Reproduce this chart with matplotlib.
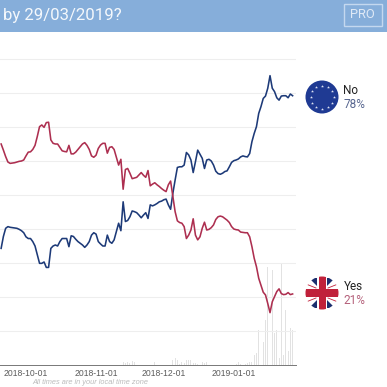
import matplotlib
matplotlib.use("Agg")
import matplotlib.pyplot as plt
import matplotlib.dates as mdates
from matplotlib.patches import Circle, Polygon, Rectangle
import numpy as np
import pandas as pd

title = "by 29/03/2019?"
footer = "All times are in your local time zone"
tick_dates = ["2018-10-01", "2018-11-01", "2018-12-01", "2019-01-01"]
grid_levels = [10, 20, 30, 40, 50, 60, 70, 80, 90]

yes_pct = [
    65.0, 63.2, 61.3, 59.7, 59.3, 59.4, 59.5, 59.7, 59.9, 60.0,
    60.3, 61.5, 62.6, 62.7, 63.4, 64.6, 67.2, 70.1, 70.6, 69.9,
    71.3, 71.4, 66.2, 65.2, 65.0, 65.0, 64.0, 63.0, 62.8, 62.7,
    64.6, 62.1, 62.1, 62.6, 63.4, 64.2, 65.0, 65.4, 64.6, 63.4,
    61.5, 61.1, 61.7, 63.7, 64.7, 65.2, 65.2, 62.3, 64.0, 64.2,
    63.4, 61.1, 58.8, 60.5, 51.7, 57.5, 57.8, 56.4, 54.8, 55.0,
    55.2, 55.9, 56.6, 55.8, 55.2, 57.2, 52.7, 53.2, 53.6, 53.0,
    52.5, 51.9, 51.4, 51.0, 53.0, 54.1, 49.5, 45.1, 42.4, 41.9,
    41.7, 40.7, 37.2, 38.2, 39.7, 43.0, 38.2, 36.8, 37.7, 40.2,
    42.0, 39.7, 39.9, 40.4, 41.2, 42.8, 43.6, 43.8, 43.6, 43.1,
    42.6, 41.9, 40.7, 40.0, 39.8, 39.7, 39.1, 39.0, 38.9, 38.9,
    37.7, 34.8, 31.4, 28.9, 25.5, 23.5, 21.4, 20.6, 18.1, 15.4,
    18.6, 20.1, 21.6, 22.4, 21.0, 20.7, 20.8, 21.3, 20.7, 20.9,
]
no_pct = [
    34.3, 37.8, 40.2, 40.7, 40.5, 40.4, 40.3, 40.2, 39.9, 39.5,
    38.9, 37.7, 37.2, 37.2, 36.3, 35.0, 32.4, 29.9, 29.9, 30.3,
    28.7, 28.7, 34.3, 35.0, 35.3, 35.0, 36.3, 37.2, 37.2, 37.2,
    34.8, 38.0, 37.8, 37.0, 36.3, 35.8, 35.3, 34.6, 35.3, 36.3,
    38.2, 38.9, 38.5, 36.3, 35.6, 35.0, 35.0, 38.2, 36.3, 35.8,
    36.8, 39.2, 41.7, 39.5, 48.0, 42.2, 42.5, 43.6, 45.3, 45.1,
    44.8, 44.1, 43.3, 44.1, 44.8, 43.1, 47.1, 46.8, 47.1, 47.5,
    48.0, 48.2, 48.6, 48.8, 47.1, 45.8, 50.5, 54.4, 58.1, 58.3,
    58.3, 58.8, 62.5, 61.8, 60.3, 56.6, 59.8, 63.2, 62.0, 60.8,
    57.8, 60.3, 60.5, 60.0, 58.8, 57.0, 56.3, 56.1, 56.4, 56.9,
    57.1, 58.3, 59.6, 60.1, 60.3, 60.6, 61.2, 61.5, 61.3, 61.2,
    62.2, 65.7, 68.1, 70.1, 74.0, 76.0, 78.4, 79.1, 81.4, 85.1,
    81.4, 80.4, 78.6, 77.9, 79.1, 79.2, 79.2, 78.6, 79.7, 79.2,
]
# trading volume, read in the same units as the percent axis
volume = [
    0, 0, 0, 0, 0, 0, 0, 0, 0, 0,
    0, 0, 0, 0, 0, 0, 0, 0, 0, 0,
    0, 0, 0, 0, 0, 0, 0, 0, 0, 0,
    0, 0, 0, 0, 0, 0, 0, 0, 0, 0,
    0, 0, 0, 0, 0, 0, 0, 0, 0, 0,
    0, 0, 0, 0, 0.8, 0.5, 1.0, 0.6, 1.2, 1.0,
    0, 0, 0, 0, 0, 0, 0, 0, 1.0, 0.5,
    0, 0, 0, 0, 0, 0, 1.5, 2.0, 1.6, 0.4,
    0.8, 0.6, 1.6, 1.4, 1.6, 0.5, 0.6, 0.4, 0.6, 0.8,
    0.7, 0.8, 0.4, 0, 0, 0, 0, 0, 0, 0,
    0, 0, 0, 0, 0.3, 1.0, 0.3, 0, 0.2, 0.5,
    1.0, 0.8, 3.0, 3.4, 10.3, 3.0, 6.9, 13.2, 28.9, 14.2,
    27.9, 9.3, 10.3, 2.0, 29.7, 3.0, 16.2, 4.0, 10.8, 10.3,
]

dates = pd.date_range("2018-09-20", periods=len(yes_pct), freq="D")

fig = plt.figure(figsize=(3.87, 3.87), dpi=100)
plt.rcParams["font.family"] = ["Liberation Sans", "DejaVu Sans"]

ax = fig.add_axes([0, 22 / 387, 296 / 387, 340 / 387])
ax.bar(dates, volume, width=0.4, color="#e2e2e2", zorder=1)
ax.plot(dates, no_pct, color="#1d3a78", lw=1.15, zorder=3)
ax.plot(dates, yes_pct, color="#ad2f50", lw=1.15, zorder=4)

ax.set_ylim(0, 100)
ax.set_xlim(dates[0] - pd.Timedelta(hours=12), dates[0] + pd.Timedelta(hours=3132))
ax.set_yticks(grid_levels)
ax.set_xticks(pd.to_datetime(tick_dates))
ax.xaxis.set_major_formatter(mdates.DateFormatter("%Y-%m-%d"))
ax.tick_params(axis="x", length=0, pad=3, labelsize=6.2, labelcolor="#5c5c5c")
ax.tick_params(axis="y", length=0, labelleft=False)
ax.grid(axis="y", color="#eeeeee", lw=0.8, zorder=0)
for side in ["top", "right", "left"]:
    ax.spines[side].set_visible(False)
ax.spines["bottom"].set_color("#777777")
ax.spines["bottom"].set_linewidth(0.7)
ax.set_facecolor("none")

# overlay in pixel units for header, flags and labels
ov = fig.add_axes([0, 0, 1, 1], facecolor="none")
ov.set_xlim(0, 387)
ov.set_ylim(387, 0)
ov.axis("off")

ov.add_patch(Rectangle((0, 0), 387, 32, color="#86aeda", lw=0))
ov.add_patch(Rectangle((343.5, 3.5), 38, 22, fc="none", ec="#c4d8ef", lw=1.0))
ov.text(362.5, 15, "PRO", color="#dfe9f6", fontsize=9.3, ha="center", va="center",
        family="Roboto")
ov.text(3, 15.5, title, color="#f4f8fc", fontsize=12.1, ha="left", va="center",
        family="Roboto")

# EU flag
ov.add_patch(Circle((322, 97), 16.5, color="#1f3a93", lw=0))
angles = np.arange(12) * np.pi / 6
ov.scatter(322 + 11.5 * np.cos(angles), 97 + 11.5 * np.sin(angles), marker="*", s=5,
           color="#dfe4f2", linewidths=0)

# UK flag
clip = Circle((322, 293), 16.5, fc="#ffffff", lw=0)
ov.add_patch(clip)
navy = "#1c2f6e"
red = "#c0213a"
cx, cy = 322, 293
tris = [
    [(-13, -15), (-5, -15), (-5, -7)], [(13, -15), (5, -15), (5, -7)],
    [(-13, 15), (-5, 15), (-5, 7)], [(13, 15), (5, 15), (5, 7)],
]
for tri in tris:
    p = Polygon([(cx + a, cy + b) for a, b in tri], fc=navy, lw=0)
    ov.add_patch(p)
    p.set_clip_path(clip)
for dx, dy in [(-1, -1), (1, -1), (-1, 1), (1, 1)]:
    line, = ov.plot([cx + 6 * dx, cx + 16 * dx], [cy + 5 * dy, cy + 9 * dy], color=red, lw=0.6)
    line.set_clip_path(clip)
for rect in [(cx - 3.5, cy - 17, 7, 34), (cx - 17, cy - 4, 34, 8)]:
    p = Rectangle(rect[:2], rect[2], rect[3], fc=red, lw=0)
    ov.add_patch(p)
    p.set_clip_path(clip)

ov.text(343.5, 91, "No", color="#222222", fontsize=8.5, va="center", family="Roboto")
ov.text(343.5, 104.5, "78%", color="#56658f", fontsize=8.5, va="center", family="Roboto")
ov.text(343.5, 287, "Yes", color="#222222", fontsize=8.5, va="center", family="Roboto")
ov.text(343.5, 300.5, "21%", color="#b4607a", fontsize=8.5, va="center", family="Roboto")

ov.text(32, 383, footer, color="#bbbbbb", fontsize=5.3, style="italic", va="center")

fig.savefig("out.png", dpi=100, facecolor="white")
